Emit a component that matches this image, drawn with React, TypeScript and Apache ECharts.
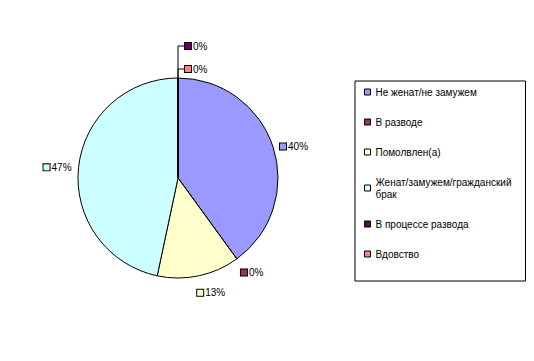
import React, { useEffect, useRef } from "react";
import * as echarts from "echarts";

const categories = [
  "Не женат/не замужем",
  "В разводе",
  "Помолвлен(а)",
  "Женат/замужем/гражданский брак",
  "В процессе развода",
  "Вдовство",
];
const values = [6, 0, 2, 7, 0, 0];
const colors = ["#9999FF", "#993366", "#FFFFCC", "#CCFFFF", "#660066", "#FF8080"];
const labelShift: [number, number][] = [[0, 0], [-2, 12], [-7, 15], [0, 0]];

const FONT = "Liberation Sans, Arial, sans-serif";
const CX = 178;
const CY = 178;
const R = 100;

export default function App() {
  const ref = useRef<HTMLDivElement>(null);
  useEffect(() => {
    document.body.style.margin = "0";
    if (!ref.current) return;
    const chart = echarts.init(ref.current, undefined, { renderer: "svg" });
    const rich: Record<string, any> = {
      t: { fontSize: 10, fontFamily: FONT, color: "#000", padding: [0, 0, 0, 2] },
    };
    colors.forEach((c, i) => {
      rich["s" + i] = {
        width: 6,
        height: 6,
        backgroundColor: c,
        borderColor: "#000",
        borderWidth: 1,
        fontSize: 6,
      };
    });
    chart.setOption({
      animation: false,
      backgroundColor: "#fff",
      color: colors,
      legend: {
        orient: "vertical",
        left: 355,
        top: 81,
        padding: [5, 5, 21, 9],
        borderColor: "#000",
        borderWidth: 1,
        itemGap: 18,
        itemWidth: 6,
        itemHeight: 6,
        icon: "rect",
        itemStyle: { borderColor: "#000", borderWidth: 1 },
        textStyle: {
          fontSize: 10,
          fontFamily: FONT,
          color: "#000",
          width: 145,
          lineHeight: 12,
        },
        formatter: (name: string) =>
          name === "Женат/замужем/гражданский брак" ? "Женат/замужем/гражданский\nбрак" : name,
        data: categories,
      },
      series: [
        {
          type: "pie",
          center: [CX, CY],
          radius: R,
          startAngle: 90,
          clockwise: true,
          avoidLabelOverlap: false,
          stillShowZeroSum: true,
          itemStyle: { borderColor: "#000", borderWidth: 1 },
          emphasis: { disabled: true },
          label: {
            show: true,
            position: "outside",
            rich,
            formatter: (p: any) => `{s${p.dataIndex}| }{t|${Math.round(p.percent)}%}`,
          },
          labelLine: { show: false, length: 2, length2: 0 },
          labelLayout: (p: any) => {
            if (p.dataIndex === 4 || p.dataIndex === 5) {
              const h = p.dataIndex === 4 ? 32 : 9;
              return {
                x: CX + 7,
                y: CY - R - h,
                align: "left",
                verticalAlign: "middle",
                labelLinePoints: [
                  [CX, CY - R],
                  [CX, CY - R - h],
                  [CX + 7, CY - R - h],
                ],
              };
            }
            const s = labelShift[p.dataIndex];
            return { dx: s[0], dy: s[1] };
          },
          data: categories.map((name, i) => ({
            name,
            value: values[i],
            labelLine:
              i >= 4
                ? { show: true, lineStyle: { color: "#000", width: 1 } }
                : { show: false, length: 2, length2: 0 },
          })),
        },
      ],
    });
    return () => chart.dispose();
  }, []);
  return <div ref={ref} style={{ width: 534, height: 361 }} />;
}
